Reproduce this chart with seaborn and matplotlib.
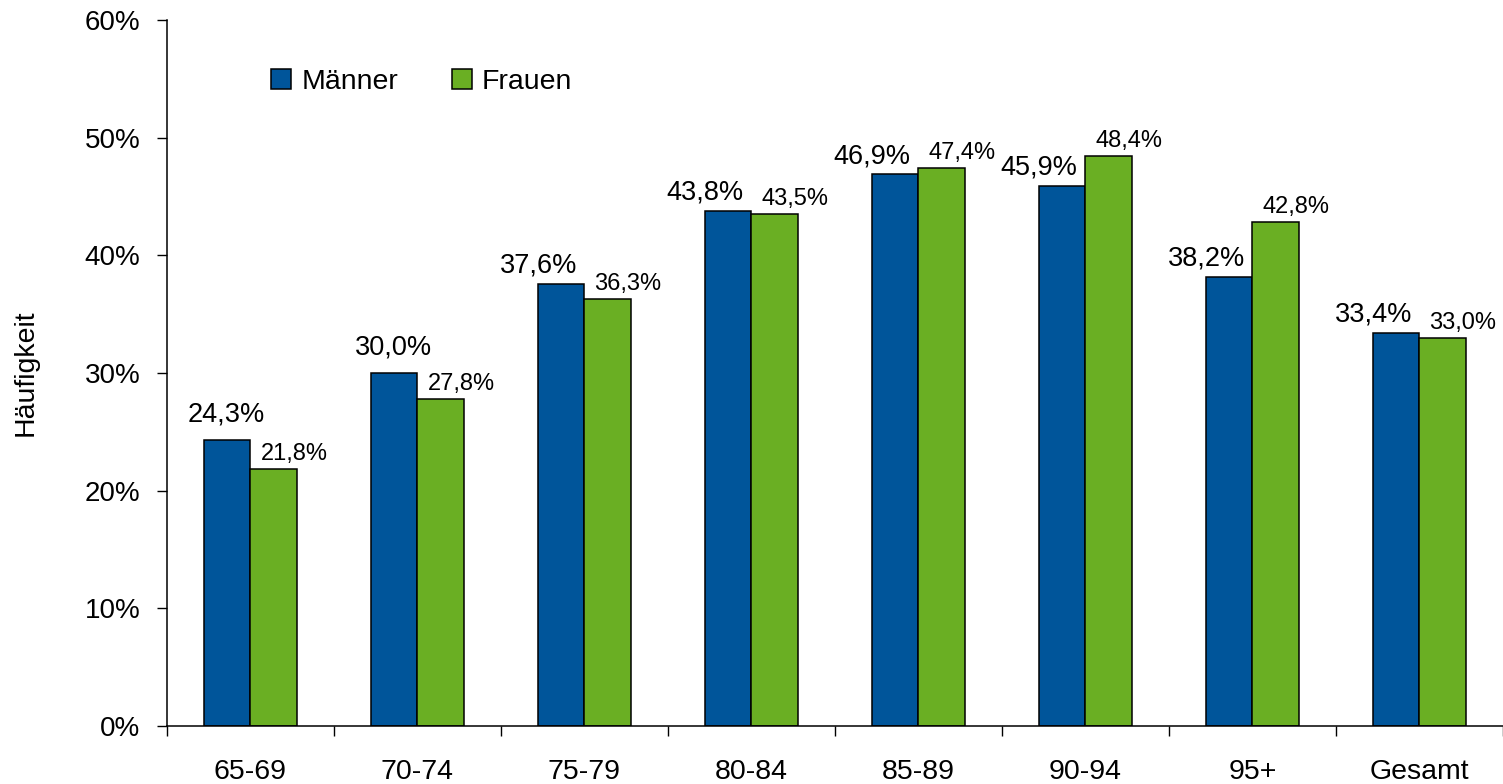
import pandas as pd
import matplotlib
matplotlib.use("Agg")
import matplotlib.pyplot as plt
import seaborn as sns
from matplotlib.ticker import PercentFormatter, FixedLocator

sns.set_style("white")
plt.rcParams["font.family"] = ["Liberation Sans", "DejaVu Sans"]
plt.rcParams.update({
    "text.color": "black",
    "axes.labelcolor": "black",
    "xtick.color": "black",
    "ytick.color": "black",
})

# values (percent)
age_groups = ["65-69", "70-74", "75-79", "80-84", "85-89", "90-94", "95+", "Gesamt"]
maenner = [24.3, 30.0, 37.6, 43.8, 46.9, 45.9, 38.2, 33.4]
frauen = [21.8, 27.8, 36.3, 43.5, 47.4, 48.4, 42.8, 33.0]
series_names = ["Männer", "Frauen"]
y_ticks = [0, 10, 20, 30, 40, 50, 60]

BLUE = "#00559A"
GREEN = "#6AAF23"


def build_frame():
    rows = []
    for name, values in zip(series_names, [maenner, frauen]):
        for group, value in zip(age_groups, values):
            rows.append({"Altersgruppe": group, "Geschlecht": name, "Wert": value})
    return pd.DataFrame(rows)


def fmt(value):
    return f"{value:.1f}%".replace(".", ",")


def main():
    df = build_frame()

    fig = plt.figure(figsize=(15.03, 7.84), dpi=100)
    ax = fig.add_axes([0.1111, 0.074, 0.8889, 0.9005])

    sns.barplot(
        data=df,
        x="Altersgruppe",
        y="Wert",
        hue="Geschlecht",
        order=age_groups,
        hue_order=series_names,
        palette=[BLUE, GREEN],
        saturation=1,
        width=0.56,
        edgecolor="black",
        linewidth=1.1,
        ax=ax,
    )

    ax.set_xlim(-0.5, len(age_groups) - 0.5)
    ax.set_ylim(0, 60)
    ax.yaxis.set_major_locator(FixedLocator(y_ticks))
    ax.yaxis.set_major_formatter(PercentFormatter(decimals=0))
    ax.tick_params(axis="y", labelsize=20, length=7.2, width=1, pad=12, left=True)

    # category separators as minor ticks, labels on untouched major ticks
    ax.set_xticks([i - 0.5 for i in range(len(age_groups) + 1)], minor=True)
    ax.tick_params(axis="x", which="major", length=0, labelsize=20.5, pad=24)
    ax.tick_params(axis="x", which="minor", length=7.2, width=1, bottom=True)

    ax.set_xlabel("")
    ax.set_ylabel("Häufigkeit", fontsize=20.5, labelpad=33)

    sns.despine(ax=ax)
    for side in ["left", "bottom"]:
        ax.spines[side].set_color("black")
        ax.spines[side].set_linewidth(1.1)

    # data labels: the men's label moves left when the women's bar is close in height
    for bar, m, f in zip(ax.containers[0], maenner, frauen):
        crowded = (m - f) < 2
        ax.annotate(
            fmt(m),
            (bar.get_x() + bar.get_width() / 2, bar.get_height()),
            xytext=(-16.5 if crowded else -0.5, 8 if crowded else 13.5),
            textcoords="offset points",
            ha="center", va="baseline", fontsize=19.5,
        )
    for bar, f in zip(ax.containers[1], frauen):
        ax.annotate(
            fmt(f),
            (bar.get_x() + bar.get_width() / 2, bar.get_height()),
            xytext=(14.5, 6.5), textcoords="offset points",
            ha="center", va="baseline", fontsize=17,
        )

    handles, labels = ax.get_legend_handles_labels()
    ax.legend(
        handles, labels,
        loc="upper left", bbox_to_anchor=(0.059, 0.967),
        ncol=2, frameon=False, fontsize=20.5,
        handlelength=0.7, handleheight=0.7,
        handletextpad=0.35, columnspacing=1.9,
    )

    fig.savefig("out.png", dpi=100)
    plt.close(fig)


if __name__ == "__main__":
    main()
